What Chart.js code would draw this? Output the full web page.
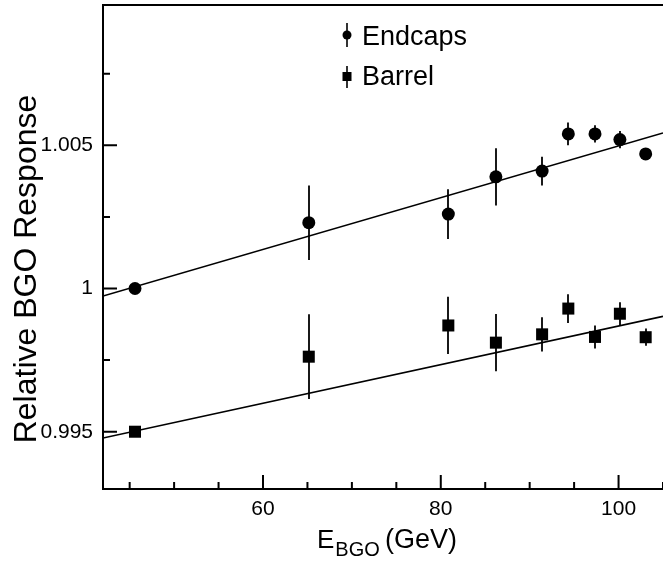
<!DOCTYPE html>
<html>
<head>
<meta charset="utf-8">
<script src="https://cdn.jsdelivr.net/npm/chart.js@4.4.1/dist/chart.umd.min.js"></script>
<style>
html,body{margin:0;padding:0;background:#fff;}
canvas{display:block;}
</style>
</head>
<body>
<canvas id="c" width="663" height="563"></canvas>
<script>
// ---- data ----
const energies   = [45.6, 65.15, 80.85, 86.2, 91.4, 94.35, 97.35, 100.15, 103.05];
const endcaps    = [1.0000, 1.0023, 1.0026, 1.0039, 1.0041, 1.0054, 1.0054, 1.0052, 1.0047];
const endcapsErr = [0, 0.0013, 0.00087, 0.001, 0.0005, 0.0004, 0.0003, 0.0003, 0];
const barrel     = [0.9950, 0.99762, 0.99871, 0.99811, 0.9984, 0.9993, 0.99831, 0.99912, 0.9983];
const barrelErr  = [0, 0.00148, 0.001, 0.001, 0.0006, 0.0005, 0.0004, 0.0004, 0.0003];
const fitX       = [42, 105];
const endcapsFit = [0.99974, 1.00543];
const barrelFit  = [0.99478, 0.99903];
const xMajorTicks = [60, 80, 100];
const xMinorTicks = [45, 50, 55, 65, 70, 75, 85, 90, 95, 105];
const yMajorTicks = [0.995, 1.0, 1.005];
const yTickLabels = ['0.995', '1', '1.005'];
const yMinorTicks = [0.9975, 1.0025, 1.0075];
const legendLabels = ['Endcaps', 'Barrel'];
const xTitle = ['E', 'BGO', '(GeV)'];
const yTitle = 'Relative BGO Response';

const FONT = '"Liberation Sans", Arial, Helvetica, sans-serif';

const toPts = (xs, ys) => xs.map((x, i) => ({x: x, y: ys[i]}));
const noPad = s => { s.paddingTop = 0; s.paddingBottom = 0; s.paddingLeft = 0; s.paddingRight = 0; };

const framePlugin = {
  id: 'frame',
  beforeDatasetsDraw(chart) {
    const {ctx, scales: {x, y}} = chart;
    ctx.save();
    ctx.strokeStyle = '#000';
    ctx.lineWidth = 1.8;
    const bars = [[endcaps, endcapsErr], [barrel, barrelErr]];
    bars.forEach(([vals, errs]) => {
      vals.forEach((v, i) => {
        if (!errs[i]) return;
        const px = Math.round(x.getPixelForValue(energies[i]));
        ctx.beginPath();
        ctx.moveTo(px, y.getPixelForValue(v - errs[i]));
        ctx.lineTo(px, y.getPixelForValue(v + errs[i]));
        ctx.stroke();
      });
    });
    ctx.restore();
  },
  afterDraw(chart) {
    const {ctx, chartArea: a, scales: {x, y}} = chart;
    ctx.save();
    ctx.strokeStyle = '#000';
    ctx.lineWidth = 2;
    // frame: left, bottom, top
    ctx.beginPath();
    ctx.moveTo(a.right + 2, a.top);
    ctx.lineTo(a.left, a.top);
    ctx.lineTo(a.left, a.bottom);
    ctx.lineTo(a.right + 2, a.bottom);
    ctx.stroke();
    // ticks
    ctx.beginPath();
    xMajorTicks.forEach(v => { const p = x.getPixelForValue(v); ctx.moveTo(p, a.bottom); ctx.lineTo(p, a.bottom - 14); });
    xMinorTicks.forEach(v => { const p = x.getPixelForValue(v); ctx.moveTo(p, a.bottom); ctx.lineTo(p, a.bottom - 7); });
    yMajorTicks.forEach(v => { const p = y.getPixelForValue(v); ctx.moveTo(a.left, p); ctx.lineTo(a.left + 14, p); });
    yMinorTicks.forEach(v => { const p = y.getPixelForValue(v); ctx.moveTo(a.left, p); ctx.lineTo(a.left + 7, p); });
    ctx.stroke();

    // x title with subscript
    ctx.fillStyle = '#000';
    ctx.textBaseline = 'alphabetic';
    ctx.textAlign = 'left';
    ctx.font = '26px ' + FONT;
    ctx.fillText(xTitle[0], 317, 548);
    const wE = ctx.measureText(xTitle[0]).width;
    ctx.font = '20px ' + FONT;
    ctx.fillText(xTitle[1], 317 + wE + 1, 556);
    ctx.font = '27px ' + FONT;
    ctx.fillText(xTitle[2], 385, 548);

    // y title
    ctx.save();
    ctx.translate(36, 269);
    ctx.rotate(-Math.PI / 2);
    ctx.textAlign = 'center';
    ctx.font = '32px ' + FONT;
    ctx.fillText(yTitle, 0, 0);
    ctx.restore();

    // legend
    ctx.lineWidth = 1.6;
    ctx.beginPath();
    ctx.moveTo(347, 23); ctx.lineTo(347, 47);
    ctx.moveTo(347, 66); ctx.lineTo(347, 88);
    ctx.stroke();
    ctx.beginPath();
    ctx.arc(347, 35, 4.5, 0, Math.PI * 2);
    ctx.fill();
    ctx.fillRect(342.5, 72, 9, 9);
    ctx.font = '27px ' + FONT;
    ctx.textAlign = 'left';
    ctx.fillText(legendLabels[0], 362, 45);
    ctx.fillText(legendLabels[1], 362, 85);
    ctx.restore();
  }
};

new Chart(document.getElementById('c'), {
  type: 'scatter',
  data: {
    datasets: [
      { label: legendLabels[0], data: toPts(energies, endcaps), pointStyle: 'circle', pointRadius: 6.5,
        backgroundColor: '#000', borderColor: '#000', borderWidth: 0, showLine: false },
      { label: legendLabels[1], data: toPts(energies, barrel), pointStyle: 'rect', pointRadius: 8.5,
        backgroundColor: '#000', borderColor: '#000', borderWidth: 0, showLine: false },
      { label: 'fitE', data: toPts(fitX, endcapsFit), showLine: true, pointRadius: 0,
        borderColor: '#000', borderWidth: 1.6, backgroundColor: '#000' },
      { label: 'fitB', data: toPts(fitX, barrelFit), showLine: true, pointRadius: 0,
        borderColor: '#000', borderWidth: 1.6, backgroundColor: '#000' }
    ]
  },
  options: {
    responsive: false,
    animation: false,
    devicePixelRatio: 1,
    layout: { autoPadding: false, padding: { top: 5, right: 0, left: 0, bottom: 0 } },
    plugins: { legend: { display: false }, tooltip: { enabled: false } },
    scales: {
      x: {
        type: 'linear', min: 42, max: 105,
        afterBuildTicks: s => { s.ticks = xMajorTicks.map(v => ({value: v})); },
        afterFit: s => { s.height = 74; noPad(s); },
        grid: { display: false, drawTicks: false },
        border: { display: false },
        ticks: { font: { family: FONT, size: 21 }, color: '#000', padding: 8, maxRotation: 0,
                 callback: v => String(v) }
      },
      y: {
        type: 'linear', min: 0.993, max: 1.0099,
        afterBuildTicks: s => { s.ticks = yMajorTicks.map(v => ({value: v})); },
        afterFit: s => { s.width = 103; noPad(s); },
        grid: { display: false, drawTicks: false },
        border: { display: false },
        ticks: { font: { family: FONT, size: 21 }, color: '#000', padding: 10,
                 callback: (v, i) => yTickLabels[i] }
      }
    }
  },
  plugins: [framePlugin]
});
</script>
</body>
</html>
